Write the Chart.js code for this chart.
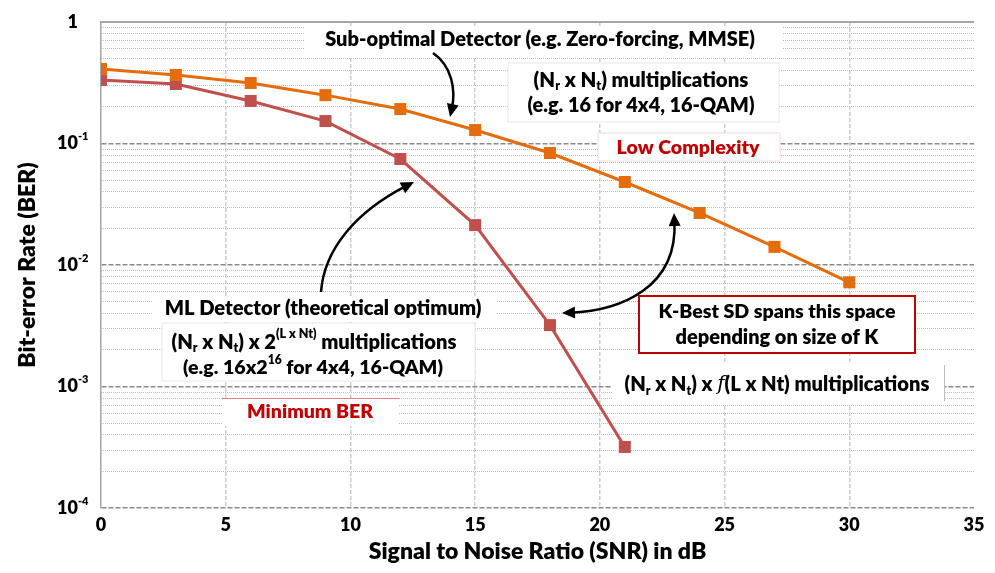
<!DOCTYPE html>
<html>
<head>
<meta charset="utf-8">
<script src="https://cdn.jsdelivr.net/npm/chart.js@4.4.1/dist/chart.umd.min.js"></script>
<style>
  html, body { margin: 0; padding: 0; background: #fff; }
  #wrap { width: 995px; height: 573px; }
</style>
</head>
<body>
<div id="wrap"><canvas id="chart" width="995" height="573"></canvas></div>
<script>
// data
const snr = [0, 3, 6, 9, 12, 15, 18, 21, 24, 27, 30];
const berSubOptimal = [0.41, 0.366, 0.315, 0.25, 0.192, 0.129, 0.0835, 0.0482, 0.0268, 0.0141, 0.0072];
const berML = [0.333, 0.309, 0.224, 0.153, 0.0745, 0.0213, 0.0032, 0.000318];
const xTicks = [0, 5, 10, 15, 20, 25, 30, 35];
const yDecades = [1e-4, 1e-3, 1e-2, 1e-1, 1];
const yDecadeLabels = [['10', '-4'], ['10', '-3'], ['10', '-2'], ['10', '-1'], ['1', '']];

const ORANGE = '#E46C0A';
const RED = '#C0504D';
const DARK_RED = '#C00000';
const FONT = 'Lato, "Open Sans", sans-serif';
const WEIGHT = 800;

// minor log ticks (2..9 of each decade)
const yMinor = [];
yDecades.slice(0, -1).forEach((d) => {
  for (let m = 2; m <= 9; m++) yMinor.push(d * m);
});

// annotation texts: _{sub}, ^{sup}, *{italic}
const notes = [
  { text: 'Sub-optimal Detector (e.g. Zero-forcing, MMSE)', cx: 540, cy: 40, w: 430 },
  { text: '(N_{r} x N_{t}) multiplications', cx: 641, cy: 80, w: 215 },
  { text: '(e.g. 16 for 4x4, 16-QAM)', cx: 641, cy: 106, w: 227 },
  { text: 'Low Complexity', cx: 688, cy: 148, w: 143, color: DARK_RED },
  { text: 'ML Detector (theoretical optimum)', cx: 323, cy: 309, w: 317 },
  { text: '(N_{r} x N_{t}) x 2^{(L x Nt)} multiplications', cx: 314, cy: 342, w: 285 },
  { text: '(e.g. 16x2^{16} for 4x4, 16-QAM)', cx: 313, cy: 368, w: 260 },
  { text: 'Minimum BER', cx: 310, cy: 412, w: 126, color: DARK_RED },
  { text: 'K-Best SD spans this space', cx: 777, cy: 312, w: 237 },
  { text: 'depending on size of K', cx: 777, cy: 338, w: 203 },
  { text: '(N_{r} x N_{t}) x *{f}(L x Nt) multiplications', cx: 777, cy: 385, w: 305 },
];

// white boxes behind the notes [x, y, w, h, stroke, lineWidth]
const boxes = [
  [305, 26, 478, 30, null, 0],
  [508, 63, 271, 59, '#e8e8e8', 1],
  [598, 133, 182, 28, '#f0dcdc', 1],
  [152, 296, 345, 26, null, 0],
  [162, 323, 313, 58, '#e8e8e8', 1],
  [222, 398, 177, 28, null, 0],
  [612, 364, 332, 40, null, 0],
  [639, 296, 276, 57, DARK_RED, 2],
];

// curved arrows: cubic bezier points, heads at start and/or end
const arrows = [
  { p: [[433, 53], [452, 66], [456, 90], [450, 117]], start: false, end: true },
  { p: [[321, 292], [324, 250], [355, 212], [414, 182]], start: false, end: true },
  { p: [[562, 313], [620, 311], [678, 288], [674, 213]], start: true, end: true },
];

function parseRich(text) {
  const parts = text.split(/(_\{[^}]*\}|\^\{[^}]*\}|\*\{[^}]*\})/).filter((s) => s);
  return parts.map((s) => {
    if (s.startsWith('_{')) return { t: s.slice(2, -1), sub: true };
    if (s.startsWith('^{')) return { t: s.slice(2, -1), sup: true };
    if (s.startsWith('*{')) return { t: s.slice(2, -1), it: true };
    return { t: s };
  });
}

function segFont(seg, size) {
  const fs = seg.sub || seg.sup ? size * 0.62 : size;
  if (seg.it) return `italic ${fs}px "DejaVu Serif", serif`;
  return `${WEIGHT} ${fs}px ${FONT}`;
}

function richWidth(ctx, segs, size) {
  let w = 0;
  segs.forEach((s) => {
    ctx.font = segFont(s, size);
    w += ctx.measureText(s.t).width;
  });
  return w;
}

function drawNote(ctx, note) {
  const segs = parseRich(note.text);
  const size = (18 * note.w) / richWidth(ctx, segs, 18);
  let x = note.cx - richWidth(ctx, segs, size) / 2;
  ctx.textAlign = 'left';
  ctx.textBaseline = 'middle';
  ctx.fillStyle = note.color || '#000';
  segs.forEach((s) => {
    const dy = s.sub ? size * 0.3 : s.sup ? -size * 0.38 : 0;
    ctx.font = segFont(s, size);
    ctx.fillText(s.t, x, note.cy + dy);
    x += ctx.measureText(s.t).width;
  });
}

function arrowHead(ctx, tip, from) {
  const ang = Math.atan2(tip[1] - from[1], tip[0] - from[0]);
  const len = 13, half = 6;
  ctx.beginPath();
  ctx.moveTo(tip[0], tip[1]);
  ctx.lineTo(tip[0] - len * Math.cos(ang) + half * Math.sin(ang), tip[1] - len * Math.sin(ang) - half * Math.cos(ang));
  ctx.lineTo(tip[0] - len * Math.cos(ang) - half * Math.sin(ang), tip[1] - len * Math.sin(ang) + half * Math.cos(ang));
  ctx.closePath();
  ctx.fill();
}

function drawArrow(ctx, a) {
  const [p0, p1, p2, p3] = a.p;
  // pull line ends back so heads stay sharp
  const back = (tip, c) => {
    const d = Math.hypot(tip[0] - c[0], tip[1] - c[1]);
    return [tip[0] - ((tip[0] - c[0]) / d) * 8, tip[1] - ((tip[1] - c[1]) / d) * 8];
  };
  const s = a.start ? back(p0, p1) : p0;
  const e = a.end ? back(p3, p2) : p3;
  ctx.strokeStyle = '#000';
  ctx.fillStyle = '#000';
  ctx.lineWidth = 2.5;
  ctx.beginPath();
  ctx.moveTo(s[0], s[1]);
  ctx.bezierCurveTo(p1[0], p1[1], p2[0], p2[1], e[0], e[1]);
  ctx.stroke();
  if (a.start) arrowHead(ctx, p0, p1);
  if (a.end) arrowHead(ctx, p3, p2);
}

const notesPlugin = {
  id: 'notes',
  beforeDraw(chart) {
    const ctx = chart.ctx;
    ctx.save();
    ctx.fillStyle = '#fff';
    ctx.fillRect(0, 0, chart.width, chart.height);
    ctx.restore();
  },
  beforeDatasetsDraw(chart) {
    const { ctx, chartArea } = chart;
    ctx.save();
    // solid top frame line
    ctx.strokeStyle = '#a6a6a6';
    ctx.lineWidth = 2;
    ctx.beginPath();
    ctx.moveTo(chartArea.left, chartArea.top);
    ctx.lineTo(chartArea.right, chartArea.top);
    ctx.stroke();

    boxes.forEach(([x, y, w, h, stroke, lw]) => {
      ctx.fillStyle = '#fff';
      ctx.fillRect(x, y, w, h);
      if (stroke) {
        ctx.strokeStyle = stroke;
        ctx.lineWidth = lw;
        ctx.strokeRect(x, y, w, h);
      }
    });
    // thin red rule above "Minimum BER", grey edge of the last box
    ctx.lineWidth = 1;
    ctx.strokeStyle = '#e08080';
    ctx.beginPath();
    ctx.moveTo(222, 398.5);
    ctx.lineTo(399, 398.5);
    ctx.stroke();
    ctx.strokeStyle = '#bfbfbf';
    ctx.beginPath();
    ctx.moveTo(944.5, 365);
    ctx.lineTo(944.5, 401);
    ctx.stroke();
    ctx.restore();
  },
  afterDatasetsDraw(chart) {
    const ctx = chart.ctx;
    ctx.save();
    notes.forEach((n) => drawNote(ctx, n));
    arrows.forEach((a) => drawArrow(ctx, a));
    ctx.restore();
  },
  afterDraw(chart) {
    // y tick labels with superscript exponents
    const { ctx, scales } = chart;
    const y = scales.y;
    ctx.save();
    ctx.fillStyle = '#000';
    ctx.textBaseline = 'middle';
    yDecades.forEach((v, i) => {
      const py = y.getPixelForValue(v);
      const [base, exp] = yDecadeLabels[i];
      ctx.font = `${WEIGHT} 18px ${FONT}`;
      ctx.textAlign = 'right';
      ctx.fillText(base, 78, py);
      if (exp) {
        ctx.font = `${WEIGHT} 11px ${FONT}`;
        ctx.textAlign = 'left';
        ctx.fillText(exp, 78, py - 7);
      }
    });
    ctx.restore();
  },
};

const pointStyleOpts = {
  borderWidth: 3,
  pointStyle: 'rect',
  pointRadius: 8.5,
  pointHoverRadius: 8.5,
  pointBorderWidth: 0,
  tension: 0,
};

new Chart(document.getElementById('chart'), {
  type: 'line',
  data: {
    datasets: [
      {
        label: 'Sub-optimal Detector',
        data: snr.map((x, i) => ({ x, y: berSubOptimal[i] })),
        borderColor: ORANGE,
        backgroundColor: ORANGE,
        xAxisID: 'x',
        yAxisID: 'y',
        ...pointStyleOpts,
      },
      {
        label: 'ML Detector',
        data: berML.map((y, i) => ({ x: snr[i], y })),
        borderColor: RED,
        backgroundColor: RED,
        xAxisID: 'x',
        yAxisID: 'y',
        ...pointStyleOpts,
      },
    ],
  },
  options: {
    responsive: false,
    animation: false,
    devicePixelRatio: 1,
    layout: { padding: { top: 22, right: 21, left: 0, bottom: 0 } },
    plugins: { legend: { display: false }, tooltip: { enabled: false } },
    scales: {
      x: {
        type: 'linear',
        min: 0,
        max: 35,
        afterBuildTicks: (s) => { s.ticks = xTicks.map((v) => ({ value: v })); },
        afterFit: (s) => { s.height = 65; },
        grid: {
          color: (c) => (c.tick && (c.tick.value === 0 || c.tick.value === 35) ? 'rgba(0,0,0,0)' : '#cdcdcd'),
          lineWidth: 1.5,
          drawTicks: false,
        },
        border: { display: false, dash: [4, 2] },
        ticks: { font: { family: FONT, size: 18, weight: WEIGHT }, color: '#000', padding: 6 },
        title: {
          display: true,
          text: 'Signal to Noise Ratio (SNR) in dB',
          font: { family: FONT, size: 23, weight: WEIGHT },
          color: '#000',
          padding: { top: 0, bottom: 8 },
        },
      },
      yMinor: {
        type: 'logarithmic',
        position: 'left',
        min: 1e-4,
        max: 1,
        afterBuildTicks: (s) => { s.ticks = yMinor.map((v) => ({ value: v })); },
        afterFit: (s) => { s.width = 0; },
        ticks: { display: false },
        grid: { color: '#bdbdbd', lineWidth: 1, drawTicks: false },
        border: { display: false, dash: [1, 1] },
      },
      y: {
        type: 'logarithmic',
        position: 'left',
        min: 1e-4,
        max: 1,
        afterBuildTicks: (s) => { s.ticks = yDecades.map((v) => ({ value: v })); },
        afterFit: (s) => { s.width = 101; },
        ticks: { display: false },
        grid: { color: '#8a8a8a', lineWidth: 1.5, drawTicks: false },
        border: { display: true, color: '#a6a6a6', width: 1.5, dash: [5, 2] },
        title: {
          display: true,
          text: 'Bit-error Rate (BER)',
          font: { family: FONT, size: 23, weight: WEIGHT },
          color: '#000',
          padding: { top: 14, bottom: 0 },
        },
      },
    },
  },
  plugins: [notesPlugin],
});
</script>
</body>
</html>
